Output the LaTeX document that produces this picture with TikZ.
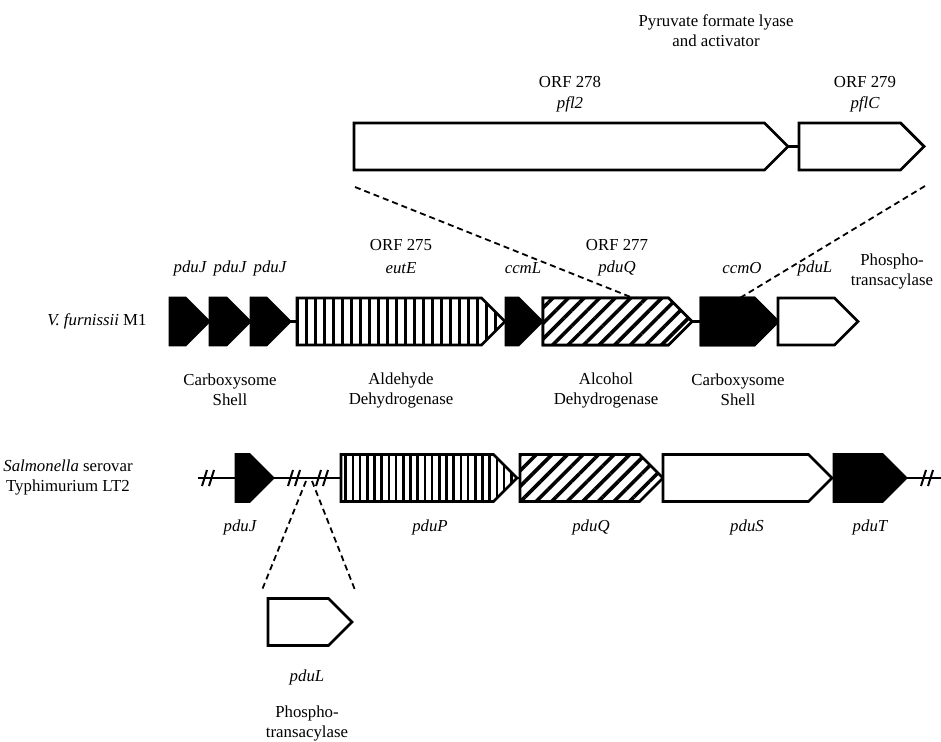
\documentclass[tikz,border=0pt]{standalone}
\usepackage{fontspec}
\setmainfont{Liberation Serif}
\usetikzlibrary{patterns.meta}
\tikzset{
  geneline/.style={draw=black,line width=1.4pt,line join=miter},
  plain/.style={geneline,fill=white},
  shell/.style={geneline,fill=black},
  vbars/.style={geneline,preaction={fill=white},
                pattern={Lines[angle=90,distance=4.5pt,line width=1.5pt]}},
  vbarsfine/.style={geneline,preaction={fill=white},
                pattern={Lines[angle=90,distance=3.6pt,line width=1.3pt]}},
  hatch/.style={geneline,preaction={fill=white},
                pattern={Lines[angle=45,distance=5.5pt,line width=1.8pt]}},
  link/.style={black,line width=1.2pt},
  zoomline/.style={black,line width=0.9pt,dash pattern=on 3pt off 2pt},
  breakmark/.style={black,line width=1pt},
  lab/.style={font=\fontsize{8.4}{10}\selectfont,align=center,inner sep=0pt},
  glab/.style={lab,font=\fontsize{8.4}{10}\selectfont\itshape},
}
% gene arrow: [style] name, left x, tip x, centre y
\newcommand{\gene}[5][plain]{%
  \path[#1] (#3,#5-23.5) -- (#4-23.5,#5-23.5) -- (#4,#5) -- (#4-23.5,#5+23.5) -- (#3,#5+23.5) -- cycle;
  \coordinate (#2-w) at (#3,#5);
  \coordinate (#2-e) at (#4,#5);
}

\begin{document}
\begin{tikzpicture}[x=0.5pt,y=-0.5pt]
  \path[use as bounding box] (0,0) rectangle (941,742);

  % zoom lines behind the genes
  \coordinate (zoomTL) at (355,187);
  \coordinate (zoomTR) at (925,186);
  \coordinate (gapL) at (306,481);
  \coordinate (gapR) at (312,481);
  \coordinate (insL) at (262,590);
  \coordinate (insR) at (355,590);

  % top: inserted pfl genes
  \node[lab] (pflnote) at (716,31) {Pyruvate formate lyase\\and activator};
  \node[lab] (orf278) at (570,82) {ORF 278};
  \node[glab] (pfl2lab) at (570,104) {pfl2};
  \node[lab] (orf279) at (865,82) {ORF 279};
  \node[glab] (pflClab) at (865,104) {pflC};
  \gene{pfl2}{354}{788}{146.5}
  \gene{pflC}{799}{924}{146.5}
  \draw[link] (pfl2-e) -- (pflC-w);

  % V. furnissii M1
  \node[lab] (vflab) at (97,321.5) {\itshape V. furnissii\/\upshape{} M1};
  \gene[shell]{pduJa}{170}{209}{321.5}
  \gene[shell]{pduJb}{210}{250}{321.5}
  \gene[shell]{pduJc}{251}{290}{321.5}
  \gene{ccmO}{701}{778}{321.5}
  \gene{pduQ}{543}{692}{321.5}
  \draw[zoomline] (zoomTL) -- (pduQ-e);
  \draw[zoomline] (zoomTR) -- (ccmO-w);
  \gene[vbars]{eutE}{297}{505}{321.5}
  \gene[shell]{ccmL}{506}{542}{321.5}
  \gene[hatch]{pduQ}{543}{692}{321.5}
  \gene[shell]{ccmO}{701}{778}{321.5}
  \gene{pduLv}{778}{858}{321.5}
  \draw[link] (pduJc-e) -- (eutE-w);
  \draw[link] (pduQ-e) -- (ccmO-w);

  \node[glab] (pduJalab) at (190,268) {pduJ};
  \node[glab] (pduJblab) at (230,268) {pduJ};
  \node[glab] (pduJclab) at (270,268) {pduJ};
  \node[lab] (orf275) at (401,245) {ORF 275};
  \node[glab] (eutElab) at (401,268) {eutE};
  \node[glab] (ccmLlab) at (523,268) {ccmL};
  \node[lab] (orf277) at (617,245) {ORF 277};
  \node[glab] (pduQvlab) at (617,268) {pduQ};
  \node[glab] (ccmOlab) at (742,268) {ccmO};
  \node[glab] (pduLvlab) at (815,268) {pduL};
  \node[lab] (ptvlab) at (892,271) {Phospho-\\transacylase};

  \node[lab] (shellA) at (230,390) {Carboxysome\\Shell};
  \node[lab] (aldh) at (401,390) {Aldehyde\\Dehydrogenase};
  \node[lab] (adh) at (606,390) {Alcohol\\Dehydrogenase};
  \node[lab] (shellB) at (738,390) {Carboxysome\\Shell};

  % Salmonella serovar Typhimurium LT2
  \node[lab] (stlab) at (68,477.5) {\itshape Salmonella\upshape{} serovar\\Typhimurium LT2};
  \coordinate (sBeg) at (198,478);
  \coordinate (sEnd) at (941,478);
  \draw[link] (sBeg) -- (sEnd);
  \draw[zoomline] (gapL) -- (insL);
  \draw[zoomline] (gapR) -- (insR);
  \foreach \bx in {206,292,320,925}{
    \draw[breakmark] (\bx-4,486) -- (\bx+1,470);
    \draw[breakmark] (\bx+3,486) -- (\bx+8,470);
  }
  \gene[shell]{pduJs}{236}{273}{478}
  \gene[vbarsfine]{pduP}{341}{517}{478}
  \gene[hatch]{pduQs}{520}{663}{478}
  \gene{pduS}{663}{832}{478}
  \gene[shell]{pduT}{834}{906}{478}

  \node[glab] (pduJslab) at (240,527) {pduJ};
  \node[glab] (pduPlab) at (430,527) {pduP};
  \node[glab] (pduQslab) at (591,527) {pduQ};
  \node[glab] (pduSlab) at (747,527) {pduS};
  \node[glab] (pduTlab) at (870,527) {pduT};

  % inserted pduL
  \gene{pduLs}{268}{352}{622}
  \node[glab] (pduLslab) at (307,677) {pduL};
  \node[lab] (ptslab) at (307,723) {Phospho-\\transacylase};
\end{tikzpicture}
\end{document}
